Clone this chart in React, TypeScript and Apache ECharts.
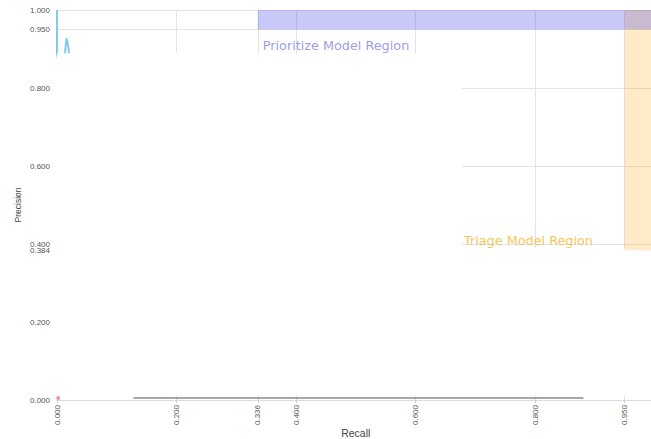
import React, { useEffect, useRef } from "react";
import * as echarts from "echarts";

// ---- data ----
const recallTicks = [0, 0.2, 0.336, 0.4, 0.6, 0.8, 0.95];
const precisionTicks = [0, 0.2, 0.384, 0.4, 0.6, 0.8, 0.95, 1.0];
const extraPrecisionGrid = [0.95];

const curveRecall = [0, 0, 0.006, 0.012, 0.014, 0.016, 0.019, 0.021, 0.024];
const curvePrecision = [1.0, 0.887, 0.84, 0.86, 0.9, 0.928, 0.905, 0.87, 0.84];

const baselineRecall = [0.128, 0.881];
const baselinePrecision = [0.005, 0.005];

const originRecall = [0.002];
const originPrecision = [0.005];

const prioritizeRecallMin = 0.336;
const prioritizePrecisionMin = 0.95;
const triageRecallMin = 0.95;
const triagePrecisionMin = 0.384;

const prioritizeLabelAt = [0.336, 0.909];
const triageLabelAt = [0.6795, 0.41];

// blank (occluded) areas, in data coordinates [recall, precision]
const blankA = [[0, 0.013], [0.678, 0.889]];
const blankB = [[0.678, 0.013], [1, 0.39]];

const fmt = (v: number) => v.toFixed(3);

export default function App() {
  const ref = useRef<HTMLDivElement>(null);
  useEffect(() => {
    if (!ref.current) return;
    const chart = echarts.init(ref.current, null, { renderer: "svg" });
    const axisFont = "Liberation Sans, Arial, sans-serif";
    chart.setOption({
      animation: false,
      backgroundColor: "#ffffff",
      grid: {
        left: 57,
        top: 10,
        width: 597.5,
        height: 390,
        containLabel: false,
        outerBoundsMode: "none",
      },
      xAxis: {
        type: "value",
        min: 0,
        max: 1,
        interval: 0.2,
        name: "Recall",
        nameLocation: "middle",
        nameGap: 27,
        nameMoveOverlap: false,
        nameTextStyle: { fontSize: 10.5, color: "#444", fontFamily: axisFont },
        axisLine: { show: true, lineStyle: { color: "#dddddd", width: 1 } },
        axisTick: { show: true, customValues: recallTicks, length: 3, lineStyle: { color: "#cccccc" } },
        axisLabel: {
          customValues: recallTicks,
          rotate: 90,
          margin: 5,
          fontSize: 8,
          color: "#555",
          fontFamily: axisFont,
          formatter: (v: number) => fmt(v),
        },
        splitLine: { show: true, lineStyle: { color: "#e3e3e3", width: 1 } },
      },
      yAxis: {
        type: "value",
        min: 0,
        max: 1,
        interval: 0.2,
        name: "Precision",
        nameLocation: "middle",
        nameGap: 35,
        nameMoveOverlap: false,
        nameTextStyle: { fontSize: 8.5, color: "#444", fontFamily: axisFont },
        axisLine: { show: false },
        axisTick: { show: false },
        axisLabel: {
          customValues: precisionTicks,
          margin: 7,
          fontSize: 8,
          color: "#555",
          fontFamily: axisFont,
          formatter: (v: number) => fmt(v),
        },
        splitLine: { show: true, lineStyle: { color: "#e3e3e3", width: 1 } },
      },
      series: [
        {
          name: "grid-extra",
          type: "line",
          data: [],
          z: 1,
          silent: true,
          markLine: {
            silent: true,
            z: 1,
            symbol: "none",
            label: { show: false },
            lineStyle: { color: "#e3e3e3", type: "solid", width: 1 },
            data: extraPrecisionGrid.map((v) => ({ yAxis: v })),
          },
        },
        {
          name: "PR curve",
          type: "line",
          z: 1,
          showSymbol: false,
          lineStyle: { color: "#86c9ef", width: 2 },
          data: curveRecall.map((r, i) => [r, curvePrecision[i]]),
        },
        {
          name: "blank",
          type: "line",
          data: [],
          z: 3,
          silent: true,
          markArea: {
            silent: true,
            z: 3,
            itemStyle: { color: "#ffffff", borderWidth: 0 },
            data: [
              [{ coord: blankA[0] }, { coord: blankA[1] }],
              [{ coord: blankB[0] }, { coord: blankB[1] }],
            ],
          },
        },
        {
          name: "regions",
          type: "line",
          data: [],
          z: 4,
          silent: true,
          markArea: {
            silent: true,
            z: 4,
            label: { show: false },
            data: [
              [
                { coord: [triageRecallMin, triagePrecisionMin], itemStyle: { color: "rgba(255,165,0,0.22)" } },
                { coord: [1, 1] },
              ],
              [
                { coord: [prioritizeRecallMin, prioritizePrecisionMin], itemStyle: { color: "rgba(60,60,235,0.28)" } },
                { coord: [1, 1] },
              ],
            ],
          },
        },
        {
          name: "baseline",
          type: "line",
          z: 5,
          showSymbol: false,
          lineStyle: { color: "#8a8a8a", width: 1.5 },
          data: baselineRecall.map((r, i) => [r, baselinePrecision[i]]),
        },
        {
          name: "origin",
          type: "scatter",
          z: 6,
          symbolSize: 4,
          itemStyle: { color: "#f07f7f" },
          data: originRecall.map((r, i) => [r, originPrecision[i]]),
        },
        {
          name: "region labels",
          type: "scatter",
          z: 7,
          symbolSize: 0,
          silent: true,
          data: [
            {
              value: prioritizeLabelAt,
              label: {
                show: true,
                position: "right",
                distance: 5,
                formatter: "Prioritize Model Region",
                color: "#8282e6",
                fontSize: 12.8,
                fontFamily: "DejaVu Sans, sans-serif",
              },
            },
            {
              value: triageLabelAt,
              label: {
                show: true,
                position: "right",
                distance: 1,
                formatter: "Triage Model Region",
                color: "#f5b52a",
                fontSize: 12.8,
                fontFamily: "DejaVu Sans, sans-serif",
              },
            },
          ],
        },
      ],
    });
    return () => chart.dispose();
  }, []);
  return (
    <div
      ref={ref}
      style={{ position: "fixed", left: 0, top: 0, width: 651, height: 439, background: "#fff" }}
    />
  );
}
